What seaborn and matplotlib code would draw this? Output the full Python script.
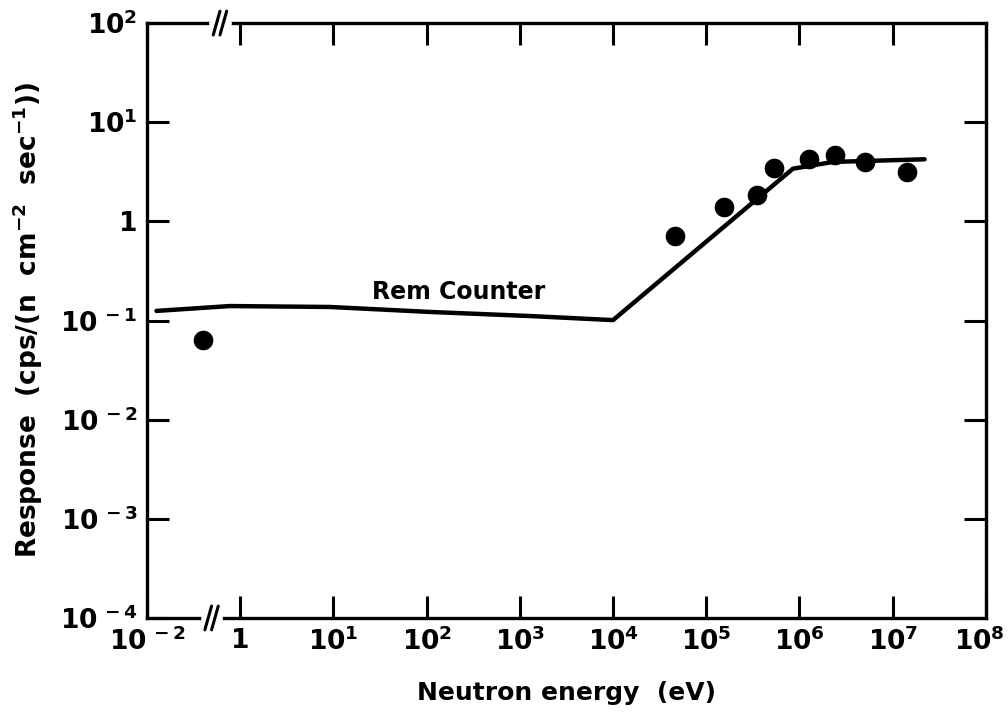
import numpy as np
import matplotlib
matplotlib.use("Agg")
import matplotlib.pyplot as plt
import matplotlib.transforms as mtransforms
import seaborn as sns
import pandas as pd

# ---- data ----
curve_energy = [0.016, 0.6, 9.2, 110, 1290, 1.0e4, 8.5e5, 2.3e6, 2.2e7]
curve_response = [0.125, 0.140, 0.137, 0.122, 0.111, 0.101, 3.4, 3.98, 4.23]

meas_energy = [0.16, 4.6e4, 1.55e5, 3.5e5, 5.3e5, 1.28e6, 2.4e6, 5.0e6, 1.41e7]
meas_response = [0.064, 0.71, 1.39, 1.85, 3.43, 4.23, 4.67, 4.0, 3.17]

x_ticks = [1e-2, 1, 1e1, 1e2, 1e3, 1e4, 1e5, 1e6, 1e7, 1e8]
x_tick_labels = [r"$10^{\,-2}$", "1", r"$10^{1}$", r"$10^{2}$", r"$10^{3}$",
                 r"$10^{4}$", r"$10^{5}$", r"$10^{6}$", r"$10^{7}$", r"$10^{8}$"]
y_ticks = [1e-4, 1e-3, 1e-2, 1e-1, 1, 1e1, 1e2]
y_tick_labels = [r"$10^{\,-4}$", r"$10^{\,-3}$", r"$10^{\,-2}$", r"$10^{\,-1}$",
                 "1", r"$10^{1}$", r"$10^{2}$"]

curve_label = "Rem Counter"
curve_label_pos = (219, 0.194)
x_label = "Neutron energy  (eV)"
y_label = r"Response  (cps/(n  cm$^{-2}$  sec$^{-1}$))"

# ---- style ----
sns.set_theme(style="white")
plt.rcParams["font.family"] = ["DejaVu Sans"]
plt.rcParams["font.weight"] = "bold"
plt.rcParams["mathtext.default"] = "bf"
plt.rcParams["mathtext.fontset"] = "dejavusans"

fig = plt.figure(figsize=(10.08, 7.15), dpi=100)
ax = fig.add_axes([0.1458, 0.1357, 0.8323, 0.832])

df_curve = pd.DataFrame({"energy": curve_energy, "response": curve_response})
df_meas = pd.DataFrame({"energy": meas_energy, "response": meas_response})

sns.lineplot(data=df_curve, x="energy", y="response", color="black",
             linewidth=3.2, estimator=None, sort=False, ax=ax)
sns.scatterplot(data=df_meas, x="energy", y="response", color="black",
                s=200, edgecolor="black", linewidth=0, ax=ax, zorder=3)

# broken log axis: decade between 1e-2 and 1 compressed into one decade width
def fwd(x):
    x = np.asarray(x, dtype=float)
    lx = np.log10(np.maximum(x, 1e-300))
    return np.where(lx < 0, lx / 2.0, lx)

def inv(y):
    y = np.asarray(y, dtype=float)
    return np.where(y < 0, 10.0 ** (2.0 * y), 10.0 ** y)

ax.set_xscale("function", functions=(fwd, inv))
ax.set_yscale("log")
ax.set_xlim(1e-2, 1e8)
ax.set_ylim(1e-4, 1e2)

ax.set_xticks(x_ticks)
ax.set_xticklabels(x_tick_labels)
ax.set_yticks(y_ticks)
ax.set_yticklabels(y_tick_labels)
ax.minorticks_off()

ax.tick_params(axis="both", which="major", direction="in", length=16, width=2.2,
               color="black", labelsize=19, labelcolor="black",
               top=True, right=True, bottom=True, left=True, pad=7)

# nudge the last x label so it stays inside the figure
last = ax.get_xticklabels()[-1]
last.set_transform(last.get_transform() +
                   mtransforms.ScaledTranslation(-0.07, 0, fig.dpi_scale_trans))

for s in ax.spines.values():
    s.set_linewidth(2.4)
    s.set_color("black")

ax.set_xlabel(x_label, fontsize=18, fontweight="bold", labelpad=18, color="black")
ax.set_ylabel(y_label, fontsize=19, fontweight="bold", labelpad=11, color="black")

ax.text(curve_label_pos[0], curve_label_pos[1], curve_label, fontsize=17,
        fontweight="bold", ha="center", va="center", color="black")

# axis-break marks on top and bottom spines
for xc, yc in [(0.077, 0.0), (0.087, 1.0)]:
    ax.plot([xc - 0.009, xc + 0.009], [yc, yc], color="white", lw=5,
            transform=ax.transAxes, clip_on=False, zorder=5)
    for dx in (-0.004, 0.004):
        ax.plot([xc + dx - 0.004, xc + dx + 0.004], [yc - 0.02, yc + 0.02],
                color="black", lw=2.2, transform=ax.transAxes, clip_on=False, zorder=6)

fig.savefig("out.png", dpi=100)
